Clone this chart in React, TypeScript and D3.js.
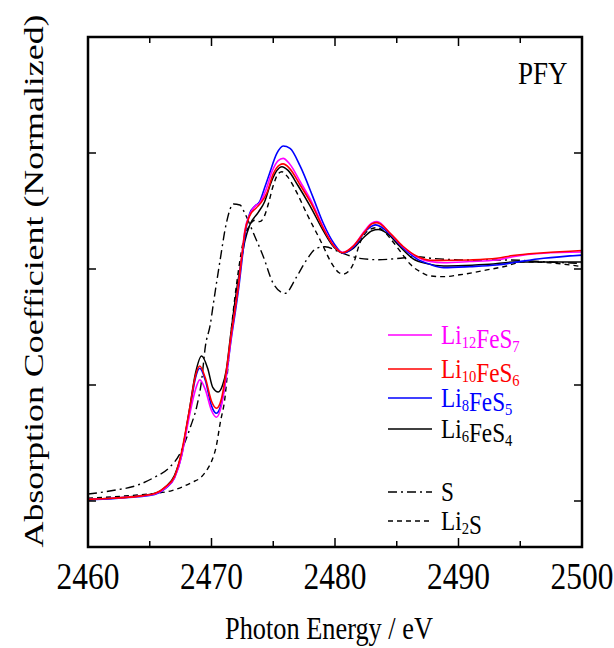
import React from "react";
import * as d3 from "d3";

const width = 614;
const height = 648;
const frame = { left: 88, right: 582, top: 37, bottom: 547 };

// spectra: [photon energy (eV), normalized absorption]
const li12FeS7 = [
  [2460, 0.007], [2462, 0.012], [2464, 0.02], [2465.4, 0.03], [2466.3, 0.058],
  [2467.0, 0.1], [2467.6, 0.2], [2468.0, 0.31], [2468.3, 0.39], [2468.7, 0.48],
  [2469.05, 0.522], [2469.5, 0.48], [2470.0, 0.39], [2470.4, 0.361], [2470.8, 0.41],
  [2471.2, 0.54], [2471.6, 0.71], [2471.9, 0.823], [2472.2, 0.938], [2472.45, 1.053],
  [2472.7, 1.165], [2473.1, 1.235], [2473.5, 1.27], [2473.9, 1.285], [2474.4, 1.34],
  [2474.9, 1.42], [2475.4, 1.467], [2475.8, 1.477], [2476.3, 1.455], [2477.2, 1.375],
  [2478.2, 1.28], [2479.05, 1.18], [2479.9, 1.1], [2480.6, 1.072], [2481.5, 1.1],
  [2482.4, 1.165], [2483.0, 1.198], [2483.4, 1.204], [2484.45, 1.154], [2485.5, 1.096],
  [2486.6, 1.053], [2487.7, 1.032], [2488.8, 1.027], [2490.9, 1.032], [2493.1, 1.039],
  [2494.4, 1.053], [2496.9, 1.068], [2500, 1.073],
];

const li10FeS6 = [
  [2460, 0.007], [2462, 0.012], [2464, 0.02], [2465.4, 0.032], [2466.3, 0.062],
  [2467.0, 0.105], [2467.55, 0.205], [2468.0, 0.33], [2468.3, 0.42], [2468.7, 0.54],
  [2469.05, 0.582], [2469.5, 0.53], [2470.0, 0.43], [2470.4, 0.4], [2470.8, 0.44],
  [2471.2, 0.56], [2471.6, 0.72], [2471.9, 0.823], [2472.2, 0.938], [2472.45, 1.053],
  [2472.7, 1.16], [2473.1, 1.23], [2473.6, 1.262], [2474.0, 1.285], [2474.5, 1.33],
  [2475.0, 1.41], [2475.5, 1.448], [2475.8, 1.453], [2476.3, 1.435], [2477.2, 1.36],
  [2478.2, 1.27], [2479.05, 1.175], [2479.9, 1.1], [2480.6, 1.07], [2481.5, 1.1],
  [2482.4, 1.16], [2483.0, 1.195], [2483.4, 1.2], [2484.45, 1.155], [2485.5, 1.098],
  [2486.6, 1.056], [2487.7, 1.038], [2488.8, 1.037], [2490.9, 1.039], [2493.1, 1.046],
  [2494.4, 1.058], [2496.9, 1.07], [2500, 1.08],
];

const li8FeS5 = [
  [2460, 0.005], [2462, 0.01], [2464, 0.018], [2465.4, 0.028], [2466.3, 0.055],
  [2467.0, 0.1], [2467.6, 0.2], [2468.0, 0.32], [2468.3, 0.41], [2468.7, 0.53],
  [2469.05, 0.572], [2469.5, 0.52], [2470.0, 0.41], [2470.4, 0.378], [2470.8, 0.42],
  [2471.2, 0.54], [2471.6, 0.7], [2471.95, 0.823], [2472.25, 0.938], [2472.5, 1.053],
  [2472.75, 1.16], [2473.1, 1.24], [2473.5, 1.27], [2473.9, 1.29], [2474.3, 1.35],
  [2474.7, 1.412], [2475.3, 1.499], [2475.8, 1.53], [2476.36, 1.52], [2477.2, 1.441],
  [2478.2, 1.312], [2479.05, 1.197], [2479.9, 1.111], [2480.67, 1.068], [2481.5, 1.094],
  [2482.6, 1.17], [2483.3, 1.19], [2484.45, 1.15], [2485.5, 1.092], [2486.6, 1.045],
  [2487.7, 1.02], [2488.8, 1.006], [2490.9, 1.01], [2493.1, 1.017], [2495.2, 1.034],
  [2496.9, 1.046], [2500, 1.06],
];

const li6FeS4 = [
  [2460, 0.007], [2462, 0.012], [2464, 0.022], [2465.4, 0.032], [2466.3, 0.062],
  [2467.0, 0.11], [2467.6, 0.21], [2468.2, 0.39], [2468.7, 0.55], [2469.2, 0.625],
  [2469.7, 0.57], [2470.1, 0.49], [2470.55, 0.47], [2470.9, 0.5], [2471.2, 0.565],
  [2471.5, 0.694], [2471.9, 0.86], [2472.3, 1.0], [2472.7, 1.12], [2473.1, 1.19],
  [2473.8, 1.245], [2474.3, 1.29], [2474.8, 1.37], [2475.3, 1.425], [2475.7, 1.441],
  [2476.2, 1.425], [2477.0, 1.36], [2478.0, 1.27], [2479.0, 1.17], [2479.9, 1.095],
  [2480.6, 1.07], [2481.5, 1.09], [2482.3, 1.135], [2483.0, 1.165], [2483.5, 1.17],
  [2484.3, 1.15], [2485.2, 1.1], [2486.3, 1.045], [2487.5, 1.022], [2488.8, 1.013],
  [2490.5, 1.015], [2492.5, 1.02], [2494.5, 1.03], [2496.5, 1.03], [2498.5, 1.03],
  [2500, 1.03],
];

const sulfur = [
  [2460, 0.03], [2462, 0.045], [2464.05, 0.069], [2465.3, 0.1], [2466.6, 0.145],
  [2467.4, 0.2], [2467.7, 0.234], [2468.3, 0.32], [2468.8, 0.406], [2469.2, 0.52],
  [2469.5, 0.665], [2469.9, 0.76], [2470.15, 0.85], [2470.7, 1.039], [2471.2, 1.197],
  [2471.77, 1.28], [2472.3, 1.276], [2472.7, 1.24], [2473.4, 1.154], [2474.2, 1.053],
  [2475.0, 0.938], [2475.95, 0.895], [2476.9, 0.967], [2477.7, 1.039], [2478.5, 1.089],
  [2479.2, 1.096], [2480.5, 1.07], [2482.0, 1.046], [2483.5, 1.04], [2485.0, 1.045],
  [2486.7, 1.053], [2488.0, 1.045], [2490.9, 1.039], [2494.0, 1.039], [2496.9, 1.031],
  [2500, 1.024],
];

const li2S = [
  [2460, 0.012], [2462, 0.018], [2464, 0.026], [2465.4, 0.033], [2466.8, 0.045],
  [2467.7, 0.062], [2468.4, 0.08], [2469.1, 0.1], [2469.7, 0.14], [2470.0, 0.17],
  [2470.4, 0.24], [2470.7, 0.335], [2471.1, 0.45], [2471.36, 0.594], [2471.6, 0.737],
  [2471.9, 0.88], [2472.2, 1.0], [2472.6, 1.125], [2473.0, 1.18], [2473.5, 1.21],
  [2473.9, 1.204], [2474.3, 1.23], [2474.6, 1.28], [2475.0, 1.36], [2475.4, 1.41],
  [2475.7, 1.419], [2476.2, 1.395], [2476.9, 1.33], [2477.7, 1.24], [2478.8, 1.125],
  [2479.9, 1.01], [2480.3, 0.985], [2480.67, 0.978], [2481.1, 0.99], [2481.5, 1.024],
  [2482.0, 1.11], [2482.8, 1.17], [2483.4, 1.178], [2484.0, 1.16], [2484.5, 1.13],
  [2485.3, 1.075], [2486.1, 1.02], [2486.9, 0.988], [2487.7, 0.97], [2488.8, 0.967],
  [2490.1, 0.975], [2492.3, 0.996], [2493.9, 1.013], [2495.2, 1.031], [2497.4, 1.027],
  [2500, 1.01],
];

const xTicks = [2460, 2470, 2480, 2490, 2500];
const xMinorTicks = [2465, 2475, 2485, 2495];
const yTicks = [0, 0.5, 1, 1.5];

const series = [
  { name: "S", sub: [["S", ""]], data: sulfur, color: "#000", dash: "9,4,2,4", width: 1.4, row: 492 },
  { name: "Li2S", sub: [["Li", "2"], ["S", ""]], data: li2S, color: "#000", dash: "5,4", width: 1.4, row: 521 },
  { name: "Li6FeS4", sub: [["Li", "6"], ["FeS", "4"]], data: li6FeS4, color: "#000", dash: null, width: 1.5, row: 429 },
  { name: "Li8FeS5", sub: [["Li", "8"], ["FeS", "5"]], data: li8FeS5, color: "#0000ff", dash: null, width: 1.6, row: 398 },
  { name: "Li12FeS7", sub: [["Li", "12"], ["FeS", "7"]], data: li12FeS7, color: "#ff00ff", dash: null, width: 1.6, row: 335 },
  { name: "Li10FeS6", sub: [["Li", "10"], ["FeS", "6"]], data: li10FeS6, color: "#ff0000", dash: null, width: 1.6, row: 369 },
];

const font = "'Liberation Serif', 'Times New Roman', serif";

export default function App() {
  const x = d3.scaleLinear().domain([2460, 2500]).range([frame.left, frame.right]);
  const y = d3.scaleLinear().domain([0, 1]).range([501, 269]);

  const line = d3
    .line<number[]>()
    .x(d => x(d[0]))
    .y(d => y(d[1]))
    .curve(d3.curveMonotoneX);

  return (
    <svg
      width={width}
      height={height}
      style={{ position: "absolute", left: 0, top: 0, background: "#fff" }}
      fontFamily={font}
    >
      <defs>
        <clipPath id="plot">
          <rect x={frame.left} y={frame.top} width={frame.right - frame.left} height={frame.bottom - frame.top} />
        </clipPath>
      </defs>

      {/* curves */}
      <g clipPath="url(#plot)" fill="none">
        {series.map(s => (
          <path
            key={s.name}
            d={line(s.data) || ""}
            stroke={s.color}
            strokeWidth={s.width}
            strokeDasharray={s.dash || undefined}
          />
        ))}
      </g>

      {/* ticks, inward on all four sides */}
      <g stroke="#000" strokeWidth={1.5}>
        {xTicks.map(t => (
          <g key={t}>
            <line x1={x(t)} x2={x(t)} y1={frame.bottom} y2={frame.bottom - 9} />
            <line x1={x(t)} x2={x(t)} y1={frame.top} y2={frame.top + 9} />
          </g>
        ))}
        {xMinorTicks.map(t => (
          <g key={t}>
            <line x1={x(t)} x2={x(t)} y1={frame.bottom} y2={frame.bottom - 6} />
            <line x1={x(t)} x2={x(t)} y1={frame.top} y2={frame.top + 6} />
          </g>
        ))}
        {yTicks.map(t => (
          <g key={t}>
            <line x1={frame.left} x2={frame.left + 8} y1={y(t)} y2={y(t)} />
            <line x1={frame.right} x2={frame.right - 8} y1={y(t)} y2={y(t)} />
          </g>
        ))}
      </g>

      <rect
        x={frame.left}
        y={frame.top}
        width={frame.right - frame.left}
        height={frame.bottom - frame.top}
        fill="none"
        stroke="#000"
        strokeWidth={2.5}
      />

      {/* tick labels */}
      {xTicks.map(t => (
        <text
          key={t}
          transform={`translate(${x(t)},589) scale(0.85,1)`}
          textAnchor="middle"
          fontSize={37}
        >
          {t}
        </text>
      ))}

      <text transform="translate(329,639) scale(0.85,1)" textAnchor="middle" fontSize={31}>
        Photon Energy / eV
      </text>

      <text
        transform="translate(43,281) rotate(-90) scale(1,0.89)"
        textAnchor="middle"
        fontSize={31}
        textLength={533}
        lengthAdjust="spacingAndGlyphs"
      >
        Absorption Coefficient (Normalized)
      </text>

      <text transform="translate(518,84) scale(0.87,1)" fontSize={31}>
        PFY
      </text>

      {/* legend */}
      {series.map(s => (
        <g key={s.name}>
          <line
            x1={388}
            x2={432}
            y1={s.row}
            y2={s.row}
            stroke={s.color}
            strokeWidth={s.width}
            strokeDasharray={s.dash || undefined}
          />
          <text transform={`translate(441,${s.row + 9}) scale(0.86,1)`} fontSize={27} fill={s.color}>
            {s.sub.map(([base, idx], i) => (
              <React.Fragment key={i}>
                <tspan>{base}</tspan>
                {idx && (
                  <tspan fontSize={17} dy={4}>
                    {idx}
                  </tspan>
                )}
                {idx && <tspan dy={-4}>{""}</tspan>}
              </React.Fragment>
            ))}
          </text>
        </g>
      ))}
    </svg>
  );
}
